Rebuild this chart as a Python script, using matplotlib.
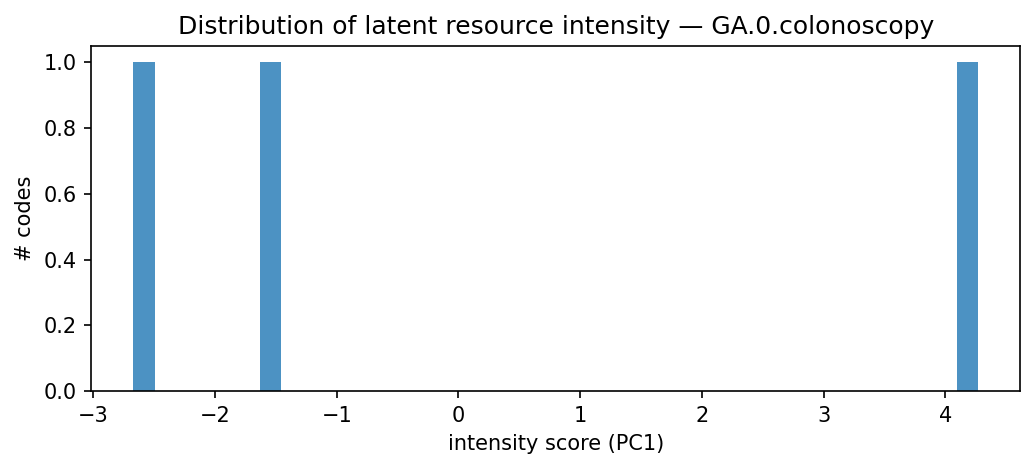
import matplotlib
matplotlib.use("Agg")
import matplotlib.pyplot as plt

# PC1 intensity scores for the three codes
scores = [-2.67, -1.55, 4.27]
n_bins = 40

fig, ax = plt.subplots(figsize=(1036 / 150, 470 / 150), dpi=150)
ax.hist(scores, bins=n_bins, alpha=0.8)
ax.set_title("Distribution of latent resource intensity — GA.0.colonoscopy")
ax.set_xlabel("intensity score (PC1)")
ax.set_ylabel("# codes")

fig.subplots_adjust(left=0.088, right=0.985, top=0.902, bottom=0.168)
plt.savefig("out.png", dpi=150)
